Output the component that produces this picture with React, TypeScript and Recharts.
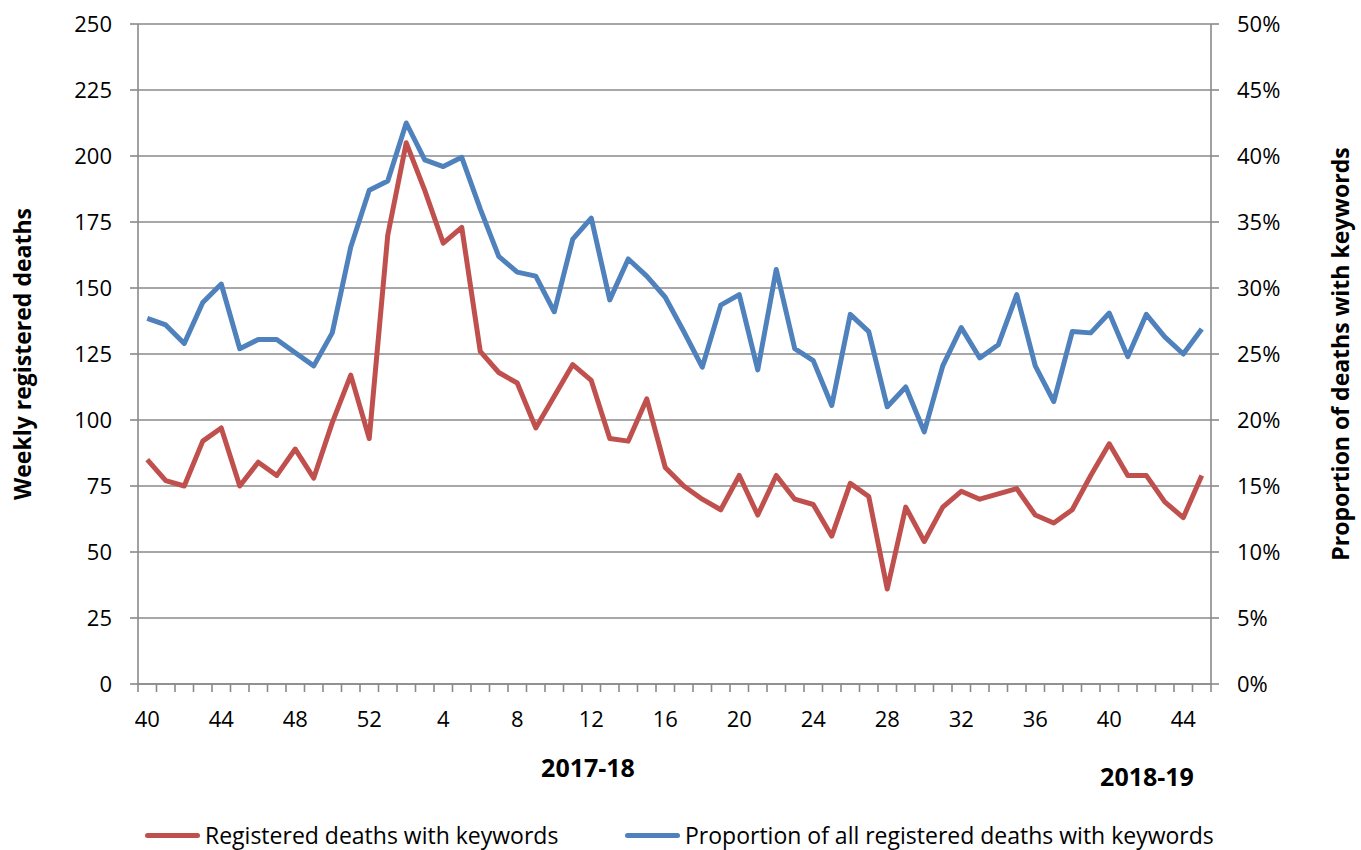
import React from 'react';
import { LineChart, Line, XAxis, YAxis, CartesianGrid, Legend } from 'recharts';

// Week numbers: week 40 of 2017 through week 45 of 2018
const weeks = [
  40, 41, 42, 43, 44, 45, 46, 47, 48, 49, 50, 51, 52,
  1, 2, 3, 4, 5, 6, 7, 8, 9, 10, 11, 12, 13, 14, 15, 16, 17, 18, 19, 20,
  21, 22, 23, 24, 25, 26, 27, 28, 29, 30, 31, 32, 33, 34, 35, 36, 37, 38, 39,
  40, 41, 42, 43, 44, 45,
];

// Weekly registered deaths mentioning the keywords
const registeredDeaths = [
  85, 77, 75, 92, 97, 75, 84, 79, 89, 78, 99, 117, 93,
  170, 205, 187, 167, 173, 126, 118, 114, 97, 109, 121, 115, 93, 92, 108, 82, 75, 70, 66, 79,
  64, 79, 70, 68, 56, 76, 71, 36, 67, 54, 67, 73, 70, 72, 74, 64, 61, 66, 79,
  91, 79, 79, 69, 63, 79,
];

// Share of all registered deaths that mention the keywords
const proportionWithKeywords = [
  0.277, 0.272, 0.258, 0.289, 0.303, 0.254, 0.261, 0.261, 0.251, 0.241, 0.266, 0.331, 0.374,
  0.381, 0.425, 0.397, 0.392, 0.399, 0.36, 0.324, 0.312, 0.309, 0.282, 0.337, 0.353, 0.291, 0.322,
  0.309, 0.293, 0.267, 0.24, 0.287, 0.295, 0.238, 0.314, 0.254, 0.245, 0.211, 0.28, 0.267, 0.21,
  0.225, 0.191, 0.241, 0.27, 0.247, 0.257, 0.295, 0.241, 0.214, 0.267, 0.266,
  0.281, 0.248, 0.28, 0.263, 0.25, 0.269,
];

const deathTicks = [0, 25, 50, 75, 100, 125, 150, 175, 200, 225, 250];
const proportionTicks = [0, 0.05, 0.1, 0.15, 0.2, 0.25, 0.3, 0.35, 0.4, 0.45, 0.5];
const seasonLabels = ['2017-18', '2018-19'];

const seriesNames = {
  deaths: 'Registered deaths with keywords',
  proportion: 'Proportion of all registered deaths with keywords',
};

// Each row gets a unique slot key; the week number is shown as the tick text
const data = weeks.map((week, i) => ({
  slot: i,
  week,
  deaths: registeredDeaths[i],
  proportion: proportionWithKeywords[i],
}));

const FONT = '"Open Sans", sans-serif';
const AXIS_GREY = '#8a8a8a';
const RED = '#C0504D';
const BLUE = '#4F81BD';

const CHART_W = 1361;
const CHART_H = 850;
const LEFT_AXIS_W = 138;
const RIGHT_AXIS_W = 150;
const PLOT_W = CHART_W - LEFT_AXIS_W - RIGHT_AXIS_W;
const HALF_STEP = PLOT_W / weeks.length / 2;

const X_TICK_SIZE = 8;
const X_TICK_GAP = 19;

// Category tick: marks sit on the boundaries between weeks, labels every 4th week
function WeekTick(props: any) {
  const { x, y, payload, index } = props;
  const axisY = y - X_TICK_SIZE - X_TICK_GAP;
  const i = typeof index === 'number' ? index : payload.index;
  return (
    <g>
      <line x1={x - HALF_STEP} x2={x - HALF_STEP} y1={axisY} y2={axisY + X_TICK_SIZE} stroke={AXIS_GREY} strokeWidth={1.6} />
      {i === weeks.length - 1 && (
        <line x1={x + HALF_STEP} x2={x + HALF_STEP} y1={axisY} y2={axisY + X_TICK_SIZE} stroke={AXIS_GREY} strokeWidth={1.6} />
      )}
      {i % 4 === 0 && (
        <text x={x} y={y} dy="0.71em" textAnchor="middle" fill="#000" fontSize={22} fontFamily={FONT}>
          {weeks[payload.value]}
        </text>
      )}
    </g>
  );
}

function SeasonLabels(props: any) {
  const vb = props.viewBox || { x: 0, y: 0 };
  const spots = [
    { dx: 450, dy: 93 },
    { dx: 1009, dy: 102 },
  ];
  return (
    <g>
      {seasonLabels.map((s, i) => (
        <text
          key={s}
          x={vb.x + spots[i].dx}
          y={vb.y + spots[i].dy}
          textAnchor="middle"
          fontSize={25}
          fontWeight="bold"
          fontFamily={FONT}
          fill="#000"
        >
          {s}
        </text>
      ))}
    </g>
  );
}

function AxisTitle(props: any) {
  const vb = props.viewBox || { x: 0, y: 0, height: 0 };
  const cx = vb.x + props.dxTitle;
  const cy = vb.y + vb.height / 2;
  return (
    <text
      x={cx}
      y={cy}
      transform={`rotate(-90 ${cx} ${cy})`}
      textAnchor="middle"
      dominantBaseline="central"
      fontSize={23}
      fontWeight="bold"
      fontFamily={FONT}
      fill="#000"
    >
      {props.text}
    </text>
  );
}

const legendOrder = [seriesNames.deaths, seriesNames.proportion];
const legendLefts = [145, 625];

function SeriesLegend(props: any) {
  const payload = props.payload || [];
  const entries = legendOrder
    .map((name) => payload.find((p: any) => p.value === name))
    .filter(Boolean);
  return (
    <div style={{ position: 'relative', width: CHART_W, height: 36, fontFamily: FONT, fontSize: 23, color: '#000' }}>
      {entries.map((entry: any, i: number) => (
        <div
          key={entry.value}
          style={{
            position: 'absolute',
            left: legendLefts[i],
            top: 0,
            height: 36,
            display: 'flex',
            alignItems: 'center',
            whiteSpace: 'nowrap',
          }}
        >
          <span
            style={{
              display: 'inline-block',
              width: 55,
              height: 5,
              borderRadius: 3,
              background: entry.color,
              marginRight: 5,
            }}
          />
          <span>{entry.value}</span>
        </div>
      ))}
    </div>
  );
}

export default function App() {
  return (
    <div style={{ position: 'absolute', left: 0, top: 0, width: CHART_W, height: CHART_H, background: '#fff' }}>
      <LineChart width={CHART_W} height={CHART_H} data={data} margin={{ top: 24, right: 0, bottom: 0, left: 0 }}>
        <CartesianGrid yAxisId="left" vertical={false} stroke={AXIS_GREY} strokeWidth={1.6} />
        <XAxis
          dataKey="slot"
          type="category"
          padding={{ left: HALF_STEP, right: HALF_STEP }}
          height={166}
          interval={0}
          tickSize={X_TICK_SIZE}
          tickMargin={X_TICK_GAP}
          tickLine={false}
          axisLine={{ stroke: AXIS_GREY, strokeWidth: 1.6 }}
          tick={<WeekTick />}
          label={{ content: (p: any) => <SeasonLabels {...p} /> }}
        />
        <YAxis
          yAxisId="left"
          width={LEFT_AXIS_W}
          domain={[0, 250]}
          ticks={deathTicks}
          interval={0}
          tickSize={8}
          tickMargin={18}
          axisLine={{ stroke: AXIS_GREY, strokeWidth: 1.6 }}
          tickLine={{ stroke: AXIS_GREY, strokeWidth: 1.6 }}
          tick={{ fill: '#000', fontSize: 22, fontFamily: FONT }}
          label={{ content: (p: any) => <AxisTitle {...p} dxTitle={22} text="Weekly registered deaths" /> }}
        />
        <YAxis
          yAxisId="right"
          orientation="right"
          width={RIGHT_AXIS_W}
          domain={[0, 0.5]}
          ticks={proportionTicks}
          interval={0}
          tickSize={8}
          tickMargin={18}
          tickFormatter={(v: number) => `${Math.round(v * 100)}%`}
          axisLine={{ stroke: AXIS_GREY, strokeWidth: 1.6 }}
          tickLine={{ stroke: AXIS_GREY, strokeWidth: 1.6 }}
          tick={{ fill: '#000', fontSize: 22, fontFamily: FONT }}
          label={{ content: (p: any) => <AxisTitle {...p} dxTitle={129} text="Proportion of deaths with keywords" /> }}
        />
        <Legend
          layout="horizontal"
          verticalAlign="middle"
          align="center"
          wrapperStyle={{ top: 817, left: 0, width: CHART_W, height: 36 }}
          content={(p: any) => <SeriesLegend {...p} />}
        />
        <Line
          yAxisId="left"
          type="linear"
          dataKey="deaths"
          name={seriesNames.deaths}
          stroke={RED}
          strokeWidth={5}
          strokeLinejoin="round"
          dot={false}
          activeDot={false}
          isAnimationActive={false}
        />
        <Line
          yAxisId="right"
          type="linear"
          dataKey="proportion"
          name={seriesNames.proportion}
          stroke={BLUE}
          strokeWidth={5}
          strokeLinejoin="round"
          dot={false}
          activeDot={false}
          isAnimationActive={false}
        />
      </LineChart>
    </div>
  );
}
